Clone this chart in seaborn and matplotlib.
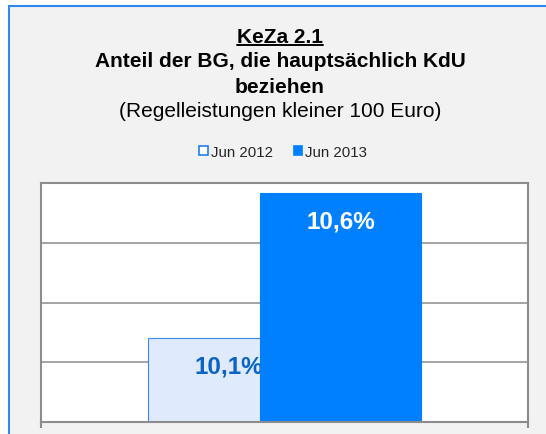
import pandas as pd
import matplotlib.pyplot as plt
import matplotlib.patches as mpatches
from matplotlib.lines import Line2D
import numpy as np
import seaborn as sns

# data
category = ["BG"]
series = ["Jun 2012", "Jun 2013"]
values = [10.1, 10.6]
labels = ["10,1%", "10,6%"]

title_lines = ["KeZa 2.1",
               "Anteil der BG, die hauptsächlich KdU",
               "beziehen",
               "(Regelleistungen kleiner 100 Euro)"]

light = "#dfeafc"
blue = "#0080ff"
edge = "#3a8cf2"
grey = "#8c8c8c"
frame_blue = "#2f87f2"

sns.set_style("white")
plt.rcParams["font.family"] = ["Liberation Sans", "DejaVu Sans"]

W, H = 546, 435
fig = plt.figure(figsize=(W / 100, H / 100), dpi=100)
fig.patch.set_facecolor("white")

# outer frame: grey fill, blue border on top and left only
fx, fy = 8.5 / W, (H - 6.5) / H
fig.add_artist(mpatches.Rectangle((fx, 0), 1 - fx, fy, transform=fig.transFigure,
                                  facecolor="#f2f2f2", edgecolor="none", zorder=0))
fig.add_artist(Line2D([fx, 1], [fy, fy], transform=fig.transFigure,
                      color=frame_blue, lw=1.5, zorder=0.5))
fig.add_artist(Line2D([fx, fx], [0, fy], transform=fig.transFigure,
                      color=frame_blue, lw=1.5, zorder=0.5))

ax = fig.add_axes([41 / W, (H - 423) / H, (528 - 41) / W, (423 - 184) / H])
ax.set_facecolor("white")

df = pd.DataFrame({"cat": category * len(series), "series": series, "val": values})
sns.barplot(data=df, x="cat", y="val", hue="series", dodge=True, width=0.46,
            palette=[light, blue], saturation=1, legend=False, ax=ax)

bar_w = 0.331
for i, p in enumerate(ax.patches):
    cx = p.get_x() + p.get_width() / 2
    p.set_width(bar_w)
    p.set_x(cx - bar_w / 2)
    p.set_edgecolor(edge if i == 0 else blue)
    p.set_linewidth(0.8)
    p.set_zorder(1 if i == 0 else 2)
    ax.annotate(labels[i], (cx, p.get_height()), xytext=(0, -35),
                textcoords="offset pixels", ha="center", va="baseline",
                fontsize=17.5, fontweight="bold",
                color="#0a64c8" if i == 0 else "white",
                zorder=1.5 if i == 0 else 3)

ymin, ymax = 9.81, 10.634
ax.set_ylim(ymin, ymax)
ax.set_yticks(np.linspace(ymin, ymax, 5))
ax.set_yticklabels([])
ax.set_xlim(-0.5, 0.5)
ax.set_xticks([-0.5, 0.5])
ax.set_xticklabels([])
ax.set_xlabel("")
ax.set_ylabel("")
ax.tick_params(axis="x", direction="out", length=4, width=1.5, color=grey, bottom=True)
ax.tick_params(axis="y", length=0)
ax.yaxis.grid(True, color=grey, lw=1.1)
ax.set_axisbelow(True)
for s in ax.spines.values():
    s.set_visible(True)
    s.set_color(grey)
    s.set_linewidth(1.5)

# title block
cx_t = 280 / W
baselines = [42.8, 67.3, 92.8, 117]
texts = []
for k, (line, yb) in enumerate(zip(title_lines, baselines)):
    t = fig.text(cx_t, (H - yb) / H, line, ha="center", va="baseline",
                 fontsize=15, fontweight="normal" if k == 3 else "bold", color="black")
    texts.append(t)

fig.canvas.draw()
bb = texts[0].get_window_extent()
uy = (H - 45.7) / H
fig.add_artist(Line2D([bb.x0 / W, bb.x1 / W], [uy, uy], transform=fig.transFigure,
                      color="black", lw=1.4))

handles = [mpatches.Patch(facecolor="white", edgecolor="#1a80f5", lw=1.2, label=series[0]),
           mpatches.Patch(facecolor=blue, edgecolor=blue, lw=1.2, label=series[1])]
fig.legend(handles=handles, loc="center", bbox_to_anchor=(283 / W, (H - 153) / H),
           ncol=2, frameon=False, fontsize=10.8, handlelength=0.55, handleheight=0.55,
           handletextpad=0.2, columnspacing=1.4, borderpad=0)

fig.savefig("out.png", dpi=100)
